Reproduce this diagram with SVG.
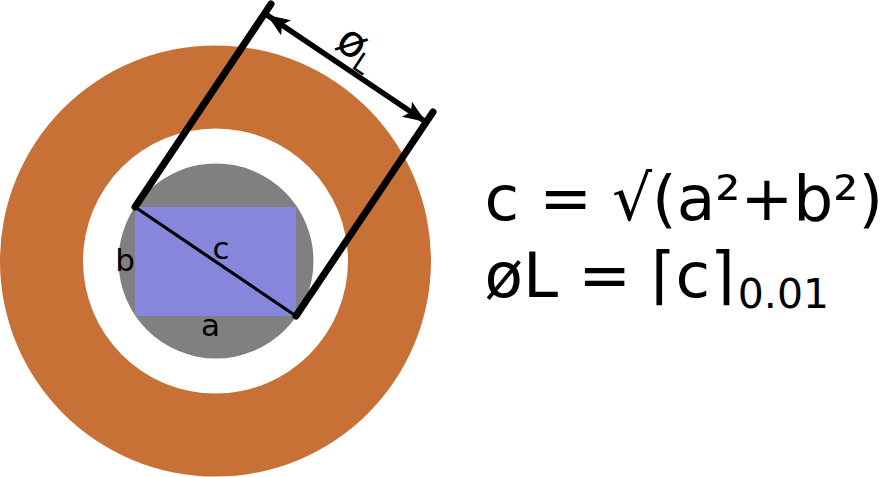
<svg xmlns="http://www.w3.org/2000/svg" width="884" height="477" viewBox="0 0 884 477">
<style>
text{font-family:"DejaVu Sans",sans-serif;fill:#000}
.lab{font-size:31px;text-anchor:middle}
.eq{font-size:63px}
.th{fill:none;stroke:#000;stroke-width:7;stroke-linecap:round}
</style>
<defs>
<marker id="ah" markerUnits="userSpaceOnUse" markerWidth="30" markerHeight="28" refX="24" refY="14" orient="auto-start-reverse">
<path d="M24 14L1 5L6 14L1 23Z" fill="#000"/>
</marker>
</defs>
<g id="ring"><path fill="#c87137" fill-rule="evenodd" d="M431 261A215.500 215.500 0 1 1 0 261A215.500 215.500 0 1 1 431 261ZM348 261A132.500 132.500 0 1 0 83 261A132.500 132.500 0 1 0 348 261Z"/></g>
<g id="circle"><circle cx="216" cy="261" r="97.500" fill="#808080"/></g>
<g id="rect"><rect x="135" y="207" width="161" height="109" fill="#8686dd"/></g>
<g id="connectors">
<path class="th" d="M135 207L271 4"/>
<path class="th" d="M296 316L433 112"/>
<path d="M135 207L296 316" fill="none" stroke="#000" stroke-width="3.200" stroke-linecap="round"/>
<path d="M267 15L426 122" fill="none" stroke="#000" stroke-width="5.500" marker-start="url(#ah)" marker-end="url(#ah)"/>
</g>
<g id="labels">
<text class="lab" x="221" y="259">c</text>
<text class="lab" x="125" y="271">b</text>
<text class="lab" x="210.500" y="336">a</text>
<text transform="translate(353 42) rotate(33.500)" font-size="44" text-anchor="middle" y="15">ø</text>
<text transform="translate(362 63) rotate(33.500)" font-size="27" text-anchor="middle" y="10">L</text>
<text class="eq" x="484.500" y="220">c = √(a²+b²)</text>
<text class="eq" x="484.500" y="297">øL = ⌈c⌉<tspan font-size="41" dy="11" dx="3">0.01</tspan></text>
</g>
</svg>
